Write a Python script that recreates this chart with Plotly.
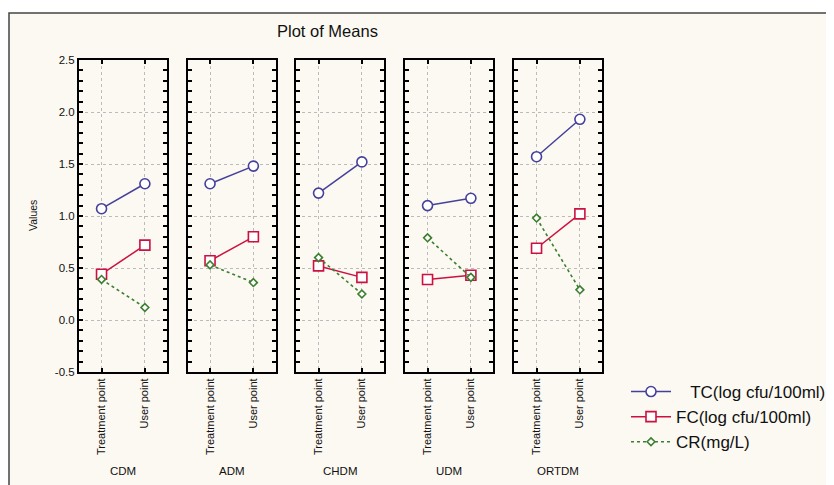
import plotly.graph_objects as go

groups = ["CDM", "ADM", "CHDM", "UDM", "ORTDM"]
points = ["Treatment point", "User point"]
tc_treat = [1.07, 1.31, 1.22, 1.10, 1.57]
tc_user = [1.31, 1.48, 1.52, 1.17, 1.93]
fc_treat = [0.44, 0.57, 0.52, 0.39, 0.69]
fc_user = [0.72, 0.80, 0.41, 0.43, 1.02]
cr_treat = [0.39, 0.53, 0.60, 0.79, 0.98]
cr_user = [0.12, 0.36, 0.25, 0.41, 0.29]
series_names = ["\u00a0\u00a0\u00a0TC(log cfu/100ml)", "FC(log cfu/100ml)", "CR(mg/L)"]
y_ticks = [-0.5, 0.0, 0.5, 1.0, 1.5, 2.0, 2.5]

W, H = 834, 485
OFF = 8  # page body margin
FONT = "Liberation Sans, Arial, sans-serif"
BG = "rgb(252,249,242)"

def px(x):
    return (x - OFF) / W

def py(y):
    return 1 - (y - OFF) / H

panel_px = [(79, 167), (187.5, 275.5), (296, 384), (405, 493), (514, 602)]
y_dom = [py(372), py(60)]

styles = [
    dict(color="#45409A", symbol="circle", size=10, dash="solid", lw=1.5),
    dict(color="#CC1140", symbol="square", size=10, dash="solid", lw=1.5),
    dict(color="#3C7F30", symbol="diamond", size=6, dash="3px,3px", lw=1.6),
]
data_sets = [(tc_treat, tc_user), (fc_treat, fc_user), (cr_treat, cr_user)]

fig = go.Figure()
layout = {}
for i, g in enumerate(groups):
    sfx = "" if i == 0 else str(i + 1)
    xa, ya = "x" + sfx, "y" + sfx
    for k, (a, b) in enumerate(data_sets):
        st = styles[k]
        fig.add_trace(go.Scatter(
            x=points, y=[a[i], b[i]], xaxis=xa, yaxis=ya,
            mode="lines+markers", name=series_names[k],
            legendgroup=str(k), showlegend=(i == 0),
            line=dict(color=st["color"], width=st["lw"], dash=st["dash"]),
            marker=dict(symbol=st["symbol"], size=st["size"], color="white",
                        line=dict(color=st["color"], width=1.6)),
            cliponaxis=False,
        ))
    x0, x1 = panel_px[i]
    layout["xaxis" + sfx] = dict(
        domain=[px(x0), px(x1)], anchor=ya, type="category", automargin=False,
        range=[-0.52, 1.51], showline=True, linecolor="black", linewidth=2,
        mirror="ticks", ticks="inside", ticklen=4, tickwidth=1.5, tickcolor="black",
        showgrid=True, gridcolor="#BBBBBB", griddash="dot", gridwidth=1,
        tickangle=-90, tickfont=dict(family=FONT, size=11, color="#111"),
        zeroline=False, fixedrange=True,
    )
    layout["yaxis" + sfx] = dict(
        domain=y_dom, anchor=xa, range=[-0.5, 2.5], automargin=False,
        tickvals=y_ticks, ticktext=[f"{v:.1f}" for v in y_ticks],
        showline=True, linecolor="black", linewidth=2,
        mirror="ticks", ticks="inside", ticklen=4, tickwidth=1.5, tickcolor="black",
        minor=dict(dtick=0.1, ticks="inside", ticklen=4, tickwidth=1.5,
                   tickcolor="black", showgrid=False),
        showgrid=True, gridcolor="#BBBBBB", griddash="dot", gridwidth=1,
        showticklabels=(i == 0), tickfont=dict(family=FONT, size=11.5, color="#111"),
        zeroline=False, fixedrange=True,
    )

annotations = [
    dict(text="Plot of Means", x=px(327), y=py(31), xref="paper", yref="paper",
         xanchor="center", yanchor="middle",
         showarrow=False, font=dict(family=FONT, size=16.5, color="#111")),
    dict(text="Values", x=px(33), y=py(216), xref="paper", yref="paper",
         xanchor="center", yanchor="middle",
         showarrow=False, textangle=-90, font=dict(family=FONT, size=10.5, color="#111")),
]
for i, g in enumerate(groups):
    x0, x1 = panel_px[i]
    annotations.append(dict(text=g, x=px((x0 + x1) / 2), y=py(471), xref="paper", yref="paper",
                            xanchor="center", yanchor="middle",
                            showarrow=False, font=dict(family=FONT, size=11.5, color="#111")))

shapes = [
    dict(type="rect", xref="paper", yref="paper", x0=px(9), y0=-0.1, x1=1.1, y1=py(13),
         line=dict(color="#444", width=1.5), fillcolor=BG, layer="below"),
]

fig.update_layout(
    width=W, height=H, autosize=False,
    margin=dict(l=0, r=0, t=0, b=0),
    paper_bgcolor="white", plot_bgcolor="white",
    showlegend=True,
    legend=dict(x=px(626), y=py(374), xanchor="left", yanchor="top",
                bgcolor="rgba(0,0,0,0)", font=dict(family=FONT, size=17, color="#111"),
                tracegroupgap=0, itemwidth=40),
    annotations=annotations, shapes=shapes,
    **layout,
)

fig.write_html("out.html", config={"displayModeBar": False})
